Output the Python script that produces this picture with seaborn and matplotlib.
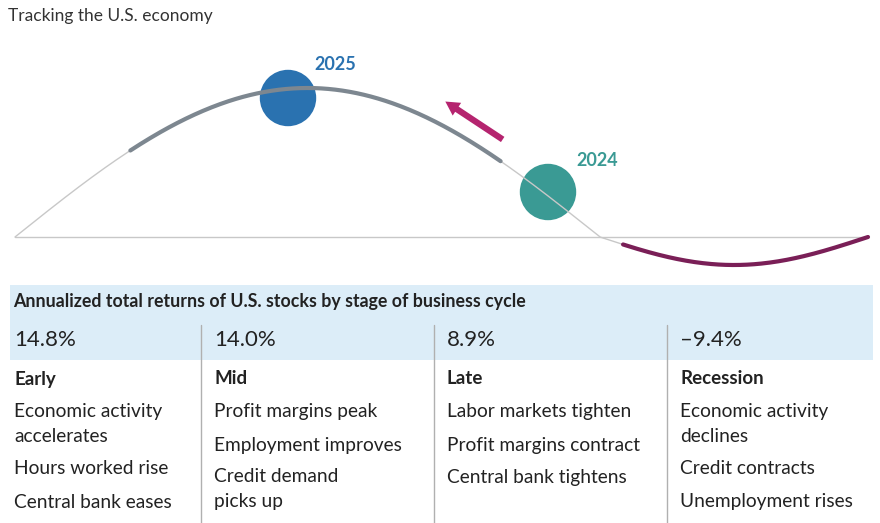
import matplotlib.pyplot as plt
import seaborn as sns
import numpy as np
import pandas as pd


def plot_cycle(stages):
    """
    Function to draw the business cycle chart.
    """
    plt.figure(figsize=(8.8, 5.23), dpi=100)
    sns.set_style("white")
    plt.rcParams['font.family'] = ['Lato', 'DejaVu Sans']
    ax = plt.axes([0, 0, 1, 1])
    ax.set_xlim(0, 880)
    ax.set_ylim(523, 0)
    ax.axis('off')

    # Schematic curve (pixel space)
    x = np.linspace(15, 868, 600)
    y = np.where(x < 600, 237 - 149 * np.sin(np.pi * (x - 15) / 585),
                 237 + 28 * np.sin(np.pi * (x - 600) / 268))
    curve = pd.DataFrame({'x': x, 'y': y})
    ax.plot([15, 868], [237, 237], color='#c8c8c8', lw=1)
    sns.lineplot(x='x', y='y', data=curve, color='#c8c8c8', lw=1, sort=False, ax=ax)
    mid = curve[(curve.x > 130) & (curve.x < 502)]
    sns.lineplot(x='x', y='y', data=mid, color='#7d8790', lw=3, sort=False, ax=ax)
    low = curve[curve.x > 622]
    sns.lineplot(x='x', y='y', data=low, color='#7a1f57', lw=3, sort=False, ax=ax)

    # Years
    pts = pd.DataFrame({'x': [288, 548], 'y': [98, 192], 'year': ['2025', '2024']})
    sns.scatterplot(x='x', y='y', data=pts, hue='year', palette=['#2a72b0', '#3a9a94'],
                    s=1650, edgecolor='none', legend=False, ax=ax)
    ax.text(314, 64, '2025', color='#2a72b0', fontsize=13, fontweight='bold', va='center')
    ax.text(576, 160, '2024', color='#3a9a94', fontsize=13, fontweight='bold', va='center')
    ax.annotate('', xy=(443, 100), xytext=(505, 141),
                arrowprops=dict(arrowstyle='simple,head_width=1.1,head_length=1.0,tail_width=0.45',
                                color='#b5246f', lw=0))

    ax.text(8, 16, 'Tracking the U.S. economy', fontsize=12.5, color='#333333', va='center')

    # Returns table
    ax.add_patch(plt.Rectangle((10, 285), 863, 75, color='#dcedf8', lw=0))
    ax.text(13, 301, 'Annualized total returns of U.S. stocks by stage of business cycle',
            fontsize=12.8, fontweight='bold', color='#222222', va='center')
    for i, s in enumerate(stages):
        x0 = s['x']
        if i > 0:
            ax.plot([x0 - 13, x0 - 13], [325, 523], color='#b0b0b0', lw=1)
        ax.text(x0, 340, s['ret'], fontsize=16, color='#222222', va='center')
        ax.text(x0, 379, s['name'], fontsize=13.5, fontweight='bold', color='#222222', va='center')
        for line, yy in zip(s['lines'], s['ys']):
            ax.text(x0, yy, line, fontsize=13.8, color='#222222', va='center')

    plt.savefig('out.png', dpi=100)


stages = [
    {'x': 14, 'ret': '14.8%', 'name': 'Early',
     'lines': ['Economic activity', 'accelerates', 'Hours worked rise', 'Central bank eases'],
     'ys': [412, 436, 469, 502]},
    {'x': 214, 'ret': '14.0%', 'name': 'Mid',
     'lines': ['Profit margins peak', 'Employment improves', 'Credit demand', 'picks up'],
     'ys': [412, 445, 477, 502]},
    {'x': 447, 'ret': '8.9%', 'name': 'Late',
     'lines': ['Labor markets tighten', 'Profit margins contract', 'Central bank tightens'],
     'ys': [412, 445, 477]},
    {'x': 680, 'ret': '\u20139.4%', 'name': 'Recession',
     'lines': ['Economic activity', 'declines', 'Credit contracts', 'Unemployment rises'],
     'ys': [412, 436, 469, 502]},
]
plot_cycle(stages)
